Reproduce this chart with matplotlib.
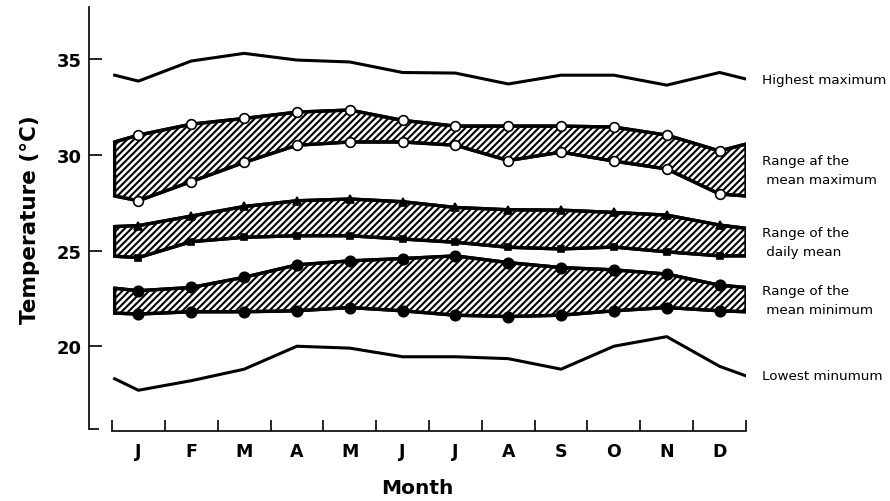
import matplotlib
matplotlib.use("Agg")
from matplotlib import pyplot as plt

plt.rcParams['font.family'] = ['DejaVu Sans']
plt.rcParams['hatch.linewidth'] = 1.5

# month positions: curves start just inside January and end at the end of December
x_pos = [0.55, 1, 2, 3, 4, 5, 6, 7, 8, 9, 10, 11, 12, 12.5]
months = ['J', 'F', 'M', 'A', 'M', 'J', 'J', 'A', 'S', 'O', 'N', 'D']

highest_max = [34.16, 33.85, 34.9, 35.3, 34.95, 34.85, 34.3, 34.27, 33.7, 34.16, 34.16, 33.64, 34.3, 33.96]
mean_max_hi = [30.67, 31.03, 31.6, 31.9, 32.23, 32.34, 31.8, 31.5, 31.5, 31.5, 31.45, 31.03, 30.2, 30.56]
mean_max_lo = [27.85, 27.6, 28.6, 29.6, 30.5, 30.67, 30.67, 30.5, 29.7, 30.14, 29.67, 29.26, 27.95, 27.85]
daily_hi = [26.25, 26.3, 26.8, 27.3, 27.6, 27.69, 27.55, 27.25, 27.13, 27.11, 26.99, 26.85, 26.33, 26.16]
daily_lo = [24.7, 24.63, 25.46, 25.69, 25.77, 25.77, 25.6, 25.43, 25.17, 25.08, 25.18, 24.93, 24.72, 24.72]
mean_min_hi = [23.03, 22.9, 23.07, 23.6, 24.25, 24.46, 24.58, 24.72, 24.37, 24.11, 23.99, 23.77, 23.19, 23.07]
mean_min_lo = [21.73, 21.68, 21.8, 21.8, 21.85, 22.02, 21.85, 21.62, 21.55, 21.62, 21.85, 22.02, 21.85, 21.8]
lowest_min = [18.3, 17.7, 18.2, 18.8, 20.0, 19.9, 19.45, 19.45, 19.35, 18.8, 20.0, 20.5, 18.95, 18.45]

yticks = [20, 25, 30, 35]


def draw_band(ax, lo, hi, marker_lo, marker_hi, ms_lo, ms_hi, face_lo='black', face_hi='black'):
    ax.fill_between(x_pos, lo, hi, facecolor='white', edgecolor='black',
                    hatch='/////', linewidth=2.4, zorder=2)
    ax.plot(x_pos, hi, color='black', lw=2.4, marker=marker_hi, ms=ms_hi,
            mfc=face_hi, mec='black', mew=1.2, markevery=range(1, 13), zorder=3)
    ax.plot(x_pos, lo, color='black', lw=2.4, marker=marker_lo, ms=ms_lo,
            mfc=face_lo, mec='black', mew=1.2, markevery=range(1, 13), zorder=3)


def main():
    fig = plt.figure(figsize=(8.9, 5.02), dpi=100)
    ax = fig.add_axes([0.1, 0.1394, 0.7382, 0.8446])

    ax.plot(x_pos, highest_max, color='black', lw=2.2, zorder=3)
    ax.plot(x_pos, lowest_min, color='black', lw=2.2, zorder=3)

    draw_band(ax, mean_max_lo, mean_max_hi, 'o', 'o', 7, 7, 'white', 'white')
    draw_band(ax, daily_lo, daily_hi, 's', '^', 5, 6)
    draw_band(ax, mean_min_lo, mean_min_hi, 'o', 'o', 7.5, 7.5)

    labels = [
        ("Highest maximum", highest_max[-1]),
        ("Range af the\n mean maximum", (mean_max_hi[-1] + mean_max_lo[-1]) / 2),
        ("Range of the\n daily mean", (daily_hi[-1] + daily_lo[-1]) / 2),
        ("Range of the\n mean minimum", (mean_min_hi[-1] + mean_min_lo[-1]) / 2),
        ("Lowest minumum", lowest_min[-1]),
    ]
    for text, y in labels:
        ax.annotate(text, xy=(12.5, y), xytext=(11.5, 0), textcoords='offset points',
                    ha='left', va='center', fontsize=9.7, linespacing=1.6,
                    annotation_clip=False)

    ax.set_xlim(0.0646, 12.5)
    ax.set_ylim(15.57, 37.72)

    ax.spines['top'].set_visible(False)
    ax.spines['right'].set_visible(False)
    ax.spines['left'].set_linewidth(1.2)
    ax.spines['bottom'].set_linewidth(1.2)
    ax.spines['bottom'].set_bounds(0.5, 12.5)
    ax.spines['left'].set_bounds(15.65, 37.72)

    ax.set_xticks([m + 0.5 for m in range(13)])
    ax.set_xticklabels([])
    ax.set_xticks(range(1, 13), minor=True)
    ax.set_xticklabels(months, minor=True, fontsize=12.5, fontweight='bold')
    ax.tick_params(axis='x', which='major', direction='in', length=8, width=1.2)
    ax.tick_params(axis='x', which='minor', length=0, pad=8)

    ax.set_yticks(yticks)
    ax.set_yticklabels([str(t) for t in yticks], fontsize=13, fontweight='bold')
    ax.set_yticks([15.65], minor=True)
    ax.tick_params(axis='y', which='major', direction='in', length=9, width=1.2, pad=5)
    ax.tick_params(axis='y', which='minor', direction='in', length=7, width=1.2)

    ax.set_xlabel("Month", fontsize=14.5, fontweight='bold', labelpad=13)
    ax.set_ylabel("Temperature (°C)", fontsize=15.5, fontweight='bold', labelpad=12)

    fig.savefig("out.png", dpi=100)
    return


if __name__ == "__main__":
    main()
